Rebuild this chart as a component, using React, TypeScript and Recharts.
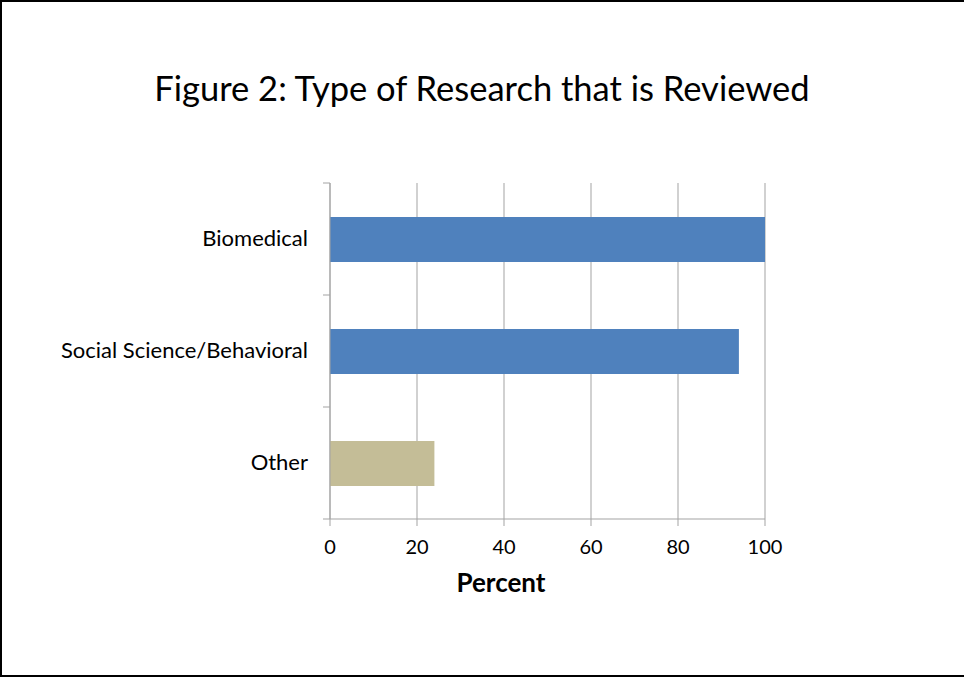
import React from 'react'
import { Bar, BarChart, CartesianGrid, Cell, XAxis, YAxis } from 'recharts'

const categories = ['Biomedical', 'Social Science/Behavioral', 'Other']
const percents = [100, 94, 24]
const barColors = ['#4F81BD', '#4F81BD', '#C4BD97']
const xTicks = [0, 20, 40, 60, 80, 100]

const data = categories.map((name, i) => ({ name, value: percents[i] }))

const W = 964
const H = 677
const TOP = 183
const BOTTOM = 158
const LEFT_AXIS = 330
const RIGHT = 199
const FONT = 'Lato, "Open Sans", sans-serif'
const GRID = '#A3A3A3'

const halfBand = (H - TOP - BOTTOM) / categories.length / 2

function CategoryTick(props: any) {
  const { y, payload, index } = props
  return (
    <g>
      <text
        x={LEFT_AXIS - 22}
        y={y}
        dy={7}
        textAnchor="end"
        fontSize={22}
        fontFamily={FONT}
        fill="#000"
      >
        {payload.value}
      </text>
      <line x1={LEFT_AXIS - 7} x2={LEFT_AXIS} y1={y - halfBand} y2={y - halfBand} stroke={GRID} />
      {index === categories.length - 1 && (
        <line x1={LEFT_AXIS - 7} x2={LEFT_AXIS} y1={y + halfBand} y2={y + halfBand} stroke={GRID} />
      )}
    </g>
  )
}

function AxisTitle() {
  return (
    <text x={501} y={592} textAnchor="middle" fontSize={26} fontWeight="bold" fontFamily={FONT} fill="#000">
      Percent
    </text>
  )
}

export default function App() {
  return (
    <div style={{ position: 'absolute', left: 0, top: 0, width: W, height: H, overflow: 'hidden' }}>
      <div
        style={{
          position: 'absolute',
          left: 0,
          top: 0,
          width: W + 2,
          height: H,
          border: '2px solid #000',
          boxSizing: 'border-box',
          background: '#fff',
        }}
      />
      <div
        style={{
          position: 'absolute',
          left: 0,
          width: W,
          top: 66,
          textAlign: 'center',
          fontFamily: FONT,
          fontSize: 34.5,
          lineHeight: '44px',
          color: '#000',
        }}
      >
        Figure 2: Type of Research that is Reviewed
      </div>
      <div style={{ position: 'absolute', left: 0, top: 0 }}>
        <BarChart
          width={W}
          height={H}
          data={data}
          layout="vertical"
          margin={{ top: TOP, right: RIGHT, left: 0, bottom: BOTTOM - 80 }}
          barSize={45}
        >
          <CartesianGrid horizontal={false} stroke={GRID} />
          <XAxis
            type="number"
            domain={[0, 100]}
            ticks={xTicks}
            height={80}
            tickSize={7}
            tickMargin={14}
            stroke={GRID}
            tick={{ fill: '#000', fontSize: 20, fontFamily: FONT }}
            label={<AxisTitle />}
          />
          <YAxis
            type="category"
            dataKey="name"
            width={LEFT_AXIS}
            tickLine={false}
            stroke={GRID}
            tick={<CategoryTick />}
          />
          <Bar dataKey="value" isAnimationActive={false}>
            {data.map((d, i) => (
              <Cell key={d.name} fill={barColors[i]} />
            ))}
          </Bar>
        </BarChart>
      </div>
    </div>
  )
}
